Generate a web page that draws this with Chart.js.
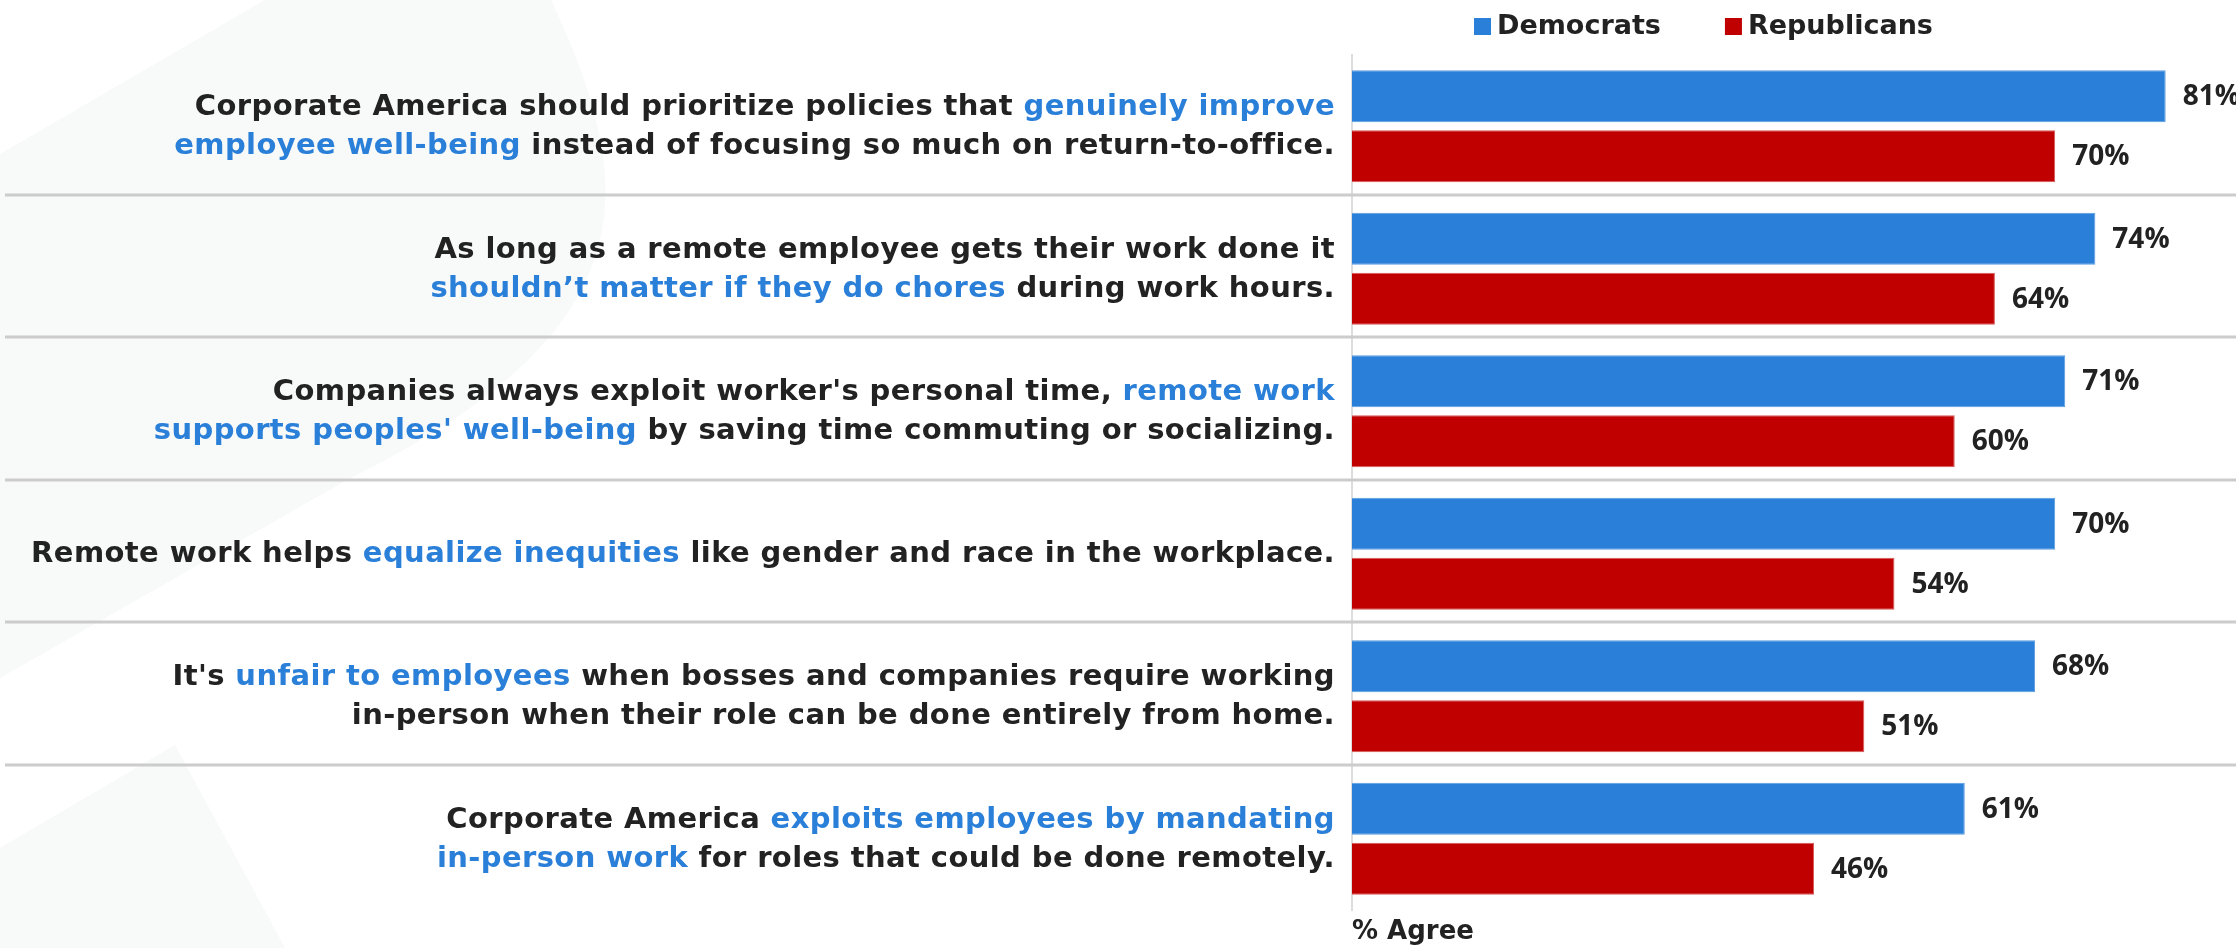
<!DOCTYPE html>
<html lang="en">
<head>
<meta charset="utf-8">
<title>Remote work attitudes by party</title>
<script src="https://cdn.jsdelivr.net/npm/chart.js@4.4.1/dist/chart.umd.min.js"></script>
<style>
  html, body { margin: 0; padding: 0; background: #ffffff; }
  #chart { display: block; }
</style>
</head>
<body>
<canvas id="chart" width="2236" height="948"></canvas>
<script>
// Statements, one array of lines each; text inside {braces} is the highlighted phrase
const statements = [
  ['Corporate America should prioritize policies that {genuinely improve', 'employee well-being} instead of focusing so much on return-to-office.'],
  ['As long as a remote employee gets their work done it', '{shouldn\u2019t matter if they do chores} during work hours.'],
  ['Companies always exploit worker\'s personal time, {remote work', 'supports peoples\' well-being} by saving time commuting or socializing.'],
  ['Remote work helps {equalize inequities} like gender and race in the workplace.'],
  ['It\'s {unfair to employees} when bosses and companies require working', 'in-person when their role can be done entirely from home.'],
  ['Corporate America {exploits employees by mandating', 'in-person work} for roles that could be done remotely.']
];
const seriesNames = ['Democrats', 'Republicans'];
const democrats = [81, 74, 71, 70, 68, 61];
const republicans = [70, 64, 60, 54, 51, 46];
const axisTitle = '% Agree';

const BLUE = '#2a7fd8';
const RED = '#c00000';
const INK = '#222222';
const FONT = '"DejaVu Sans", sans-serif';
const NUM_FONT = '"Open Sans", sans-serif';

// ==========================================
// TEXT HELPERS
// ==========================================

// Split statement lines into segments, tracking highlight state across line breaks
function toSegments(lines) {
  let hl = false;
  return lines.map(line => {
    const segs = [];
    let buf = '';
    for (const ch of line) {
      if (ch === '{' || ch === '}') {
        if (buf) segs.push({ text: buf, hl });
        buf = '';
        hl = ch === '{';
      } else {
        buf += ch;
      }
    }
    if (buf) segs.push({ text: buf, hl });
    return segs;
  });
}

const labelSegments = statements.map(toSegments);

// ==========================================
// PLUGINS
// ==========================================

// Pale decorative shapes behind the statements
const backdropPlugin = {
  id: 'backdrop',
  beforeDraw(chart) {
    const ctx = chart.ctx;
    ctx.save();
    ctx.fillStyle = '#ffffff';
    ctx.fillRect(0, 0, chart.width, chart.height);
    ctx.fillStyle = '#f8f9f9';
    ctx.beginPath();
    ctx.moveTo(0, 154);
    ctx.lineTo(265, 0);
    ctx.lineTo(551, 0);
    ctx.bezierCurveTo(640, 190, 650, 330, 347, 480);
    ctx.lineTo(0, 678);
    ctx.closePath();
    ctx.fill();
    ctx.beginPath();
    ctx.moveTo(175, 745);
    ctx.lineTo(285, 948);
    ctx.lineTo(0, 948);
    ctx.lineTo(0, 848);
    ctx.closePath();
    ctx.fill();
    ctx.restore();
  }
};

// Horizontal rules between statement groups
const separatorPlugin = {
  id: 'separators',
  afterDraw(chart) {
    const ctx = chart.ctx;
    const y = chart.scales.y;
    ctx.save();
    ctx.strokeStyle = '#cccccc';
    ctx.lineWidth = 3;
    for (let i = 1; i < statements.length; i++) {
      const py = Math.round((y.getPixelForValue(i - 1) + y.getPixelForValue(i)) / 2) - 3;
      ctx.beginPath();
      ctx.moveTo(5, py);
      ctx.lineTo(chart.width, py);
      ctx.stroke();
    }
    ctx.restore();
  }
};

// Right-aligned statement text with blue highlighted phrases
const statementPlugin = {
  id: 'statements',
  afterDraw(chart) {
    const ctx = chart.ctx;
    const y = chart.scales.y;
    const right = chart.chartArea.left - 17;
    const lineH = 39;
    ctx.save();
    ctx.font = `bold 29px ${FONT}`;
    ctx.letterSpacing = '0.4px';
    ctx.textBaseline = 'middle';
    ctx.textAlign = 'left';
    labelSegments.forEach((lines, i) => {
      const cy = y.getPixelForValue(i) + 1;
      const top = cy - (lines.length - 1) * lineH / 2;
      lines.forEach((segs, li) => {
        const total = segs.reduce((w, s) => w + ctx.measureText(s.text).width, 0);
        let x = right - total;
        segs.forEach(s => {
          ctx.fillStyle = s.hl ? BLUE : INK;
          ctx.fillText(s.text, x, top + li * lineH);
          x += ctx.measureText(s.text).width;
        });
      });
    });
    ctx.restore();
  }
};

// Percentage labels at the end of each bar
const valueLabelPlugin = {
  id: 'valueLabels',
  afterDatasetsDraw(chart) {
    const ctx = chart.ctx;
    ctx.save();
    ctx.font = `bold 28px ${NUM_FONT}`;
    ctx.fillStyle = INK;
    ctx.textBaseline = 'middle';
    ctx.textAlign = 'left';
    chart.data.datasets.forEach((ds, di) => {
      chart.getDatasetMeta(di).data.forEach((bar, i) => {
        ctx.fillText(ds.data[i] + '%', bar.x + 17, bar.y + 1);
      });
    });
    ctx.restore();
  }
};

// Legend above the bars, anchored to the plot's left edge
const legendPlugin = {
  id: 'topLegend',
  afterDraw(chart) {
    const ctx = chart.ctx;
    const cy = 26;
    let x = chart.chartArea.left + 122;
    ctx.save();
    ctx.font = `bold 27px ${FONT}`;
    ctx.textBaseline = 'middle';
    ctx.textAlign = 'left';
    chart.data.datasets.forEach(ds => {
      ctx.fillStyle = ds.backgroundColor;
      ctx.fillRect(x, cy - 8, 17, 17);
      ctx.fillStyle = INK;
      ctx.fillText(ds.label, x + 23, cy + 1);
      x += 23 + ctx.measureText(ds.label).width + 64;
    });
    ctx.restore();
  }
};

// ==========================================
// CHART
// ==========================================

Chart.defaults.font.family = FONT;
Chart.defaults.color = INK;

const ctx = document.getElementById('chart').getContext('2d');

new Chart(ctx, {
  type: 'bar',
  data: {
    labels: statements.map(s => s.join(' ').replace(/[{}]/g, '')),
    datasets: [
      {
        label: seriesNames[0],
        data: democrats,
        backgroundColor: BLUE,
        borderColor: '#5a9ce2',
        borderWidth: 1
      },
      {
        label: seriesNames[1],
        data: republicans,
        backgroundColor: RED,
        borderColor: '#d65a5a',
        borderWidth: 1
      }
    ]
  },
  options: {
    indexAxis: 'y',
    responsive: false,
    devicePixelRatio: 1,
    animation: false,
    categoryPercentage: 0.842,
    barPercentage: 0.867,
    layout: { padding: { top: 55, right: 0, bottom: 0, left: 0 } },
    plugins: {
      legend: { display: false },
      tooltip: { enabled: false }
    },
    scales: {
      x: {
        min: 0,
        max: 88,
        grid: { display: false },
        border: { display: false },
        ticks: { display: false },
        title: {
          display: true,
          text: axisTitle,
          align: 'start',
          color: INK,
          padding: 0,
          font: { size: 26, weight: 'bold' }
        },
        afterFit(scale) { scale.height = 38; }
      },
      y: {
        grid: { display: false },
        ticks: { display: false },
        border: { display: true, color: '#dddddd', width: 2 },
        afterFit(scale) { scale.width = 1352; }
      }
    }
  },
  plugins: [backdropPlugin, separatorPlugin, statementPlugin, valueLabelPlugin, legendPlugin]
});
</script>
</body>
</html>
